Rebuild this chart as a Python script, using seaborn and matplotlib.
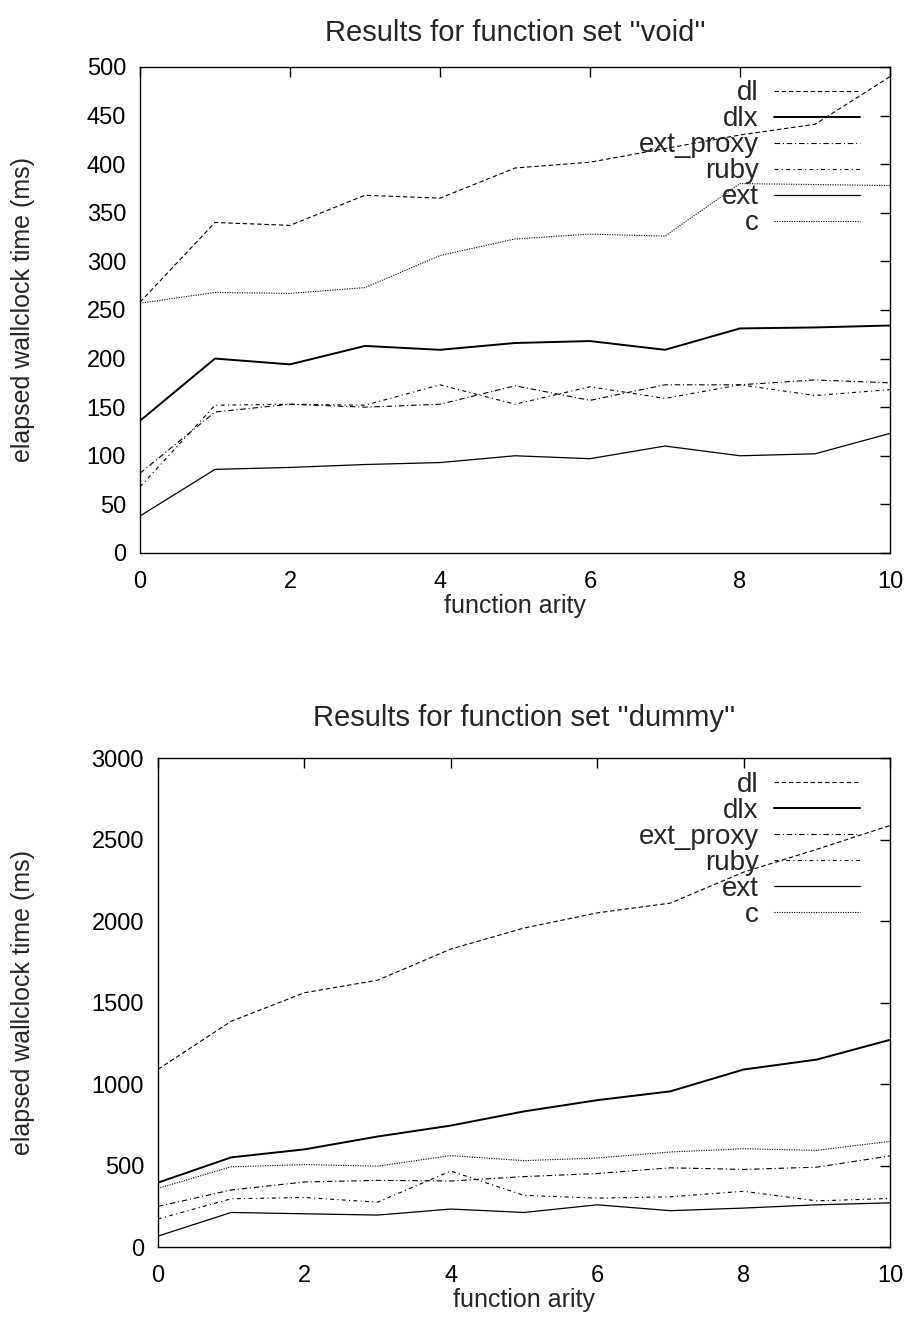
import pandas as pd
import matplotlib
matplotlib.use("Agg")
import matplotlib.pyplot as plt
import seaborn as sns

arity = list(range(11))
series = ["dl", "dlx", "ext_proxy", "ruby", "ext", "c"]

# set "void"
void_dl = [258, 340, 337, 368, 365, 396, 402, 416, 430, 441, 490]
void_dlx = [136, 200, 194, 213, 209, 216, 218, 209, 231, 232, 234]
void_ext_proxy = [82, 145, 153, 150, 153, 172, 157, 173, 173, 178, 175]
void_ruby = [68, 152, 153, 152, 173, 153, 171, 159, 173, 162, 168]
void_ext = [38, 86, 88, 91, 93, 100, 97, 110, 100, 102, 123]
void_c = [257, 268, 267, 273, 306, 323, 328, 326, 380, 379, 378]

# set "dummy"
dummy_dl = [1090, 1385, 1560, 1637, 1828, 1957, 2050, 2110, 2300, 2440, 2586]
dummy_dlx = [395, 550, 599, 678, 745, 832, 901, 955, 1089, 1150, 1271]
dummy_ext_proxy = [249, 350, 399, 409, 405, 432, 451, 486, 476, 490, 559]
dummy_ruby = [172, 296, 304, 275, 466, 317, 300, 308, 342, 283, 298]
dummy_ext = [67, 212, 204, 196, 233, 212, 259, 223, 239, 259, 271]
dummy_c = [360, 492, 506, 496, 561, 530, 546, 583, 603, 593, 648]

styles = {
    "dl": dict(ls=(0, (4, 2.5)), lw=0.8),
    "dlx": dict(ls="-", lw=1.4),
    "ext_proxy": dict(ls=(0, (5, 2.5, 1, 2.5)), lw=0.8),
    "ruby": dict(ls=(0, (3.5, 3, 1, 3)), lw=0.8),
    "ext": dict(ls="-", lw=0.9),
    "c": dict(ls=(0, (1, 1.2)), lw=0.8),
}

sns.set_theme(style="white")
plt.rcParams["font.family"] = ["Liberation Sans", "DejaVu Sans"]
plt.rcParams["axes.edgecolor"] = "black"
plt.rcParams["axes.linewidth"] = 1.0

fig = plt.figure(figsize=(9.12, 13.36), dpi=100)
ax1 = fig.add_axes([0.1535, 0.5861, 0.8224, 0.3638])
ax2 = fig.add_axes([0.1732, 0.0666, 0.8026, 0.3660])


def draw(ax, data, title, ymax, ystep, ylab_x, tpad, leg_x):
    for name in series:
        sns.lineplot(x=arity, y=data[name], ax=ax, color="black",
                     label=name, **styles[name])
    ax.set_xlim(0, 10)
    ax.set_ylim(0, ymax)
    ax.set_xticks(range(0, 11, 2))
    ax.set_yticks(range(0, ymax + 1, ystep))
    ax.tick_params(direction="in", length=7, width=1, top=True, right=True,
                   labelsize=17, colors="black")
    ax.tick_params(axis="x", pad=13)
    ax.tick_params(axis="y", pad=10)
    ax.set_title(title, fontsize=21, pad=tpad)
    ax.set_xlabel("function arity", fontsize=18, labelpad=1)
    ax.set_ylabel("elapsed wallclock time (ms)", fontsize=18)
    ax.yaxis.set_label_coords(ylab_x, 0.5)
    ax.legend(loc="upper right", bbox_to_anchor=(leg_x, 0.978),
              frameon=False, markerfirst=False,
              fontsize=20, handlelength=3.1, handletextpad=0.55,
              labelspacing=0.0, borderaxespad=0, borderpad=0.1)


draw(ax1, dict(dl=void_dl, dlx=void_dlx, ext_proxy=void_ext_proxy,
               ruby=void_ruby, ext=void_ext, c=void_c),
     "Results for function set ''void''", 500, 50, -0.14, 19, 0.964)
draw(ax2, dict(dl=dummy_dl, dlx=dummy_dlx, ext_proxy=dummy_ext_proxy,
               ruby=dummy_ruby, ext=dummy_ext, c=dummy_c),
     "Results for function set ''dummy''", 3000, 500, -0.168, 23, 0.963)

fig.savefig("out.png", dpi=100)
